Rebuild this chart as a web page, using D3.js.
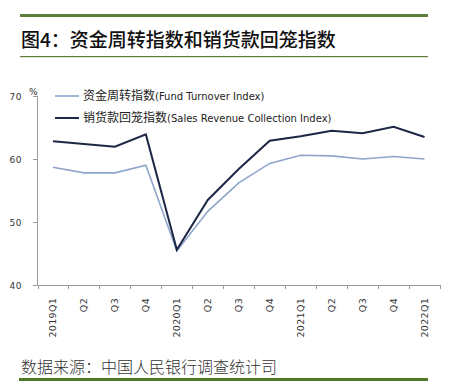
<!DOCTYPE html>
<html><head><meta charset="utf-8">
<script src="https://cdn.jsdelivr.net/npm/d3@7"></script>
<style>body{margin:0;background:#fff}svg{display:block}</style>
</head><body>
<script>
const categories = ["2019Q1","Q2","Q3","Q4","2020Q1","Q2","Q3","Q4","2021Q1","Q2","Q3","Q4","2022Q1"];
const fundTurnover = [58.7,57.8,57.8,59.0,45.4,51.7,56.2,59.3,60.6,60.5,60.0,60.4,60.0];
const salesCollection = [62.8,62.4,61.95,63.9,45.6,53.5,58.4,62.9,63.6,64.5,64.1,65.1,63.5];
const yTicks = [40,50,60,70];
const seriesNames = ["资金周转指数(Fund Turnover Index)","销货款回笼指数(Sales Revenue Collection Index)"];
const titleText = "图4：资金周转指数和销货款回笼指数";
const sourceText = "数据来源：中国人民银行调查统计司";

const W=449,H=382;
const svg=d3.select("body").append("svg").attr("width",W).attr("height",H);
const green="#5e7d3c";
svg.append("rect").attr("x",20).attr("y",14).attr("width",408).attr("height",3).attr("fill",green);
svg.append("text").attr("x",21).attr("y",47).text(titleText)
  .attr("font-family","Noto Sans CJK SC").attr("font-weight",500).attr("font-size",19).attr("fill","#111");
svg.append("rect").attr("x",20).attr("y",56).attr("width",408).attr("height",1.2).attr("fill",green);

const x=d3.scaleBand().domain(d3.range(categories.length)).range([37.5,440]);
const y=d3.scaleLinear().domain([40,70]).range([285,96]);

// axes
const g=svg.append("g");
g.append("line").attr("x1",37.5).attr("x2",37.5).attr("y1",96).attr("y2",285).attr("stroke","#999");
g.append("line").attr("x1",37.5).attr("x2",440).attr("y1",285.5).attr("y2",285.5).attr("stroke","#999");
const bounds=d3.range(categories.length+1).map(i=>i===categories.length?x.range()[1]:x(i));
g.selectAll(".xt").data(bounds).join("line").attr("x1",d=>Math.round(d)+0.5).attr("x2",d=>Math.round(d)+0.5)
  .attr("y1",285).attr("y2",289).attr("stroke","#999");
g.selectAll(".yt").data(yTicks).join("line").attr("x1",33).attr("x2",37.5)
  .attr("y1",d=>Math.round(y(d))+0.5).attr("y2",d=>Math.round(y(d))+0.5).attr("stroke","#999");
g.selectAll(".yl").data(yTicks).join("text").attr("x",22).attr("y",d=>y(d)+3.5).attr("text-anchor","end")
  .attr("font-family","DejaVu Sans").attr("font-size",9).attr("fill","#333").attr("letter-spacing",0.5).text(d=>d);
svg.append("text").attr("x",29).attr("y",95).text("%").attr("font-family","DejaVu Sans").attr("font-size",9).attr("fill","#333");
g.selectAll(".xl").data(categories).join("text")
  .attr("transform",(d,i)=>`translate(${x(i)+x.bandwidth()/2+3.5},298) rotate(-90)`)
  .attr("text-anchor","end").attr("font-family","DejaVu Sans").attr("font-size",9.5).attr("fill","#333").attr("letter-spacing",0.3)
  .text(d=>d);

const line=d3.line().x((d,i)=>x(i)+x.bandwidth()/2).y(d=>y(d));
const colors=["#8fa5cc","#1b2745"];
[fundTurnover,salesCollection].forEach((s,k)=>{
  svg.append("path").datum(s).attr("d",line).attr("fill","none").attr("stroke",colors[k]).attr("stroke-width",k?2:1.6)
   .attr("stroke-linejoin","miter");
});

// legend
const ly=[96,118];
seriesNames.forEach((n,k)=>{
  svg.append("line").attr("x1",55).attr("x2",79).attr("y1",ly[k]).attr("y2",ly[k]).attr("stroke",colors[k]).attr("stroke-width",k?2:1.6);
  const cn=n.slice(0,n.indexOf("(")), en=n.slice(n.indexOf("("));
  const t=svg.append("text").attr("x",83).attr("y",ly[k]+4).attr("fill","#222");
  t.append("tspan").text(cn).attr("font-family","Noto Sans CJK SC").attr("font-size",12);
  t.append("tspan").text(en).attr("font-family","DejaVu Sans").attr("font-size",10);
});

svg.append("text").attr("x",21).attr("y",373).text(sourceText)
  .attr("font-family","Noto Sans CJK SC").attr("font-size",16).attr("font-weight",300).attr("fill","#333");
svg.append("rect").attr("x",19).attr("y",378).attr("width",409).attr("height",3).attr("fill","#4f7a2a");
</script>
</body></html>
